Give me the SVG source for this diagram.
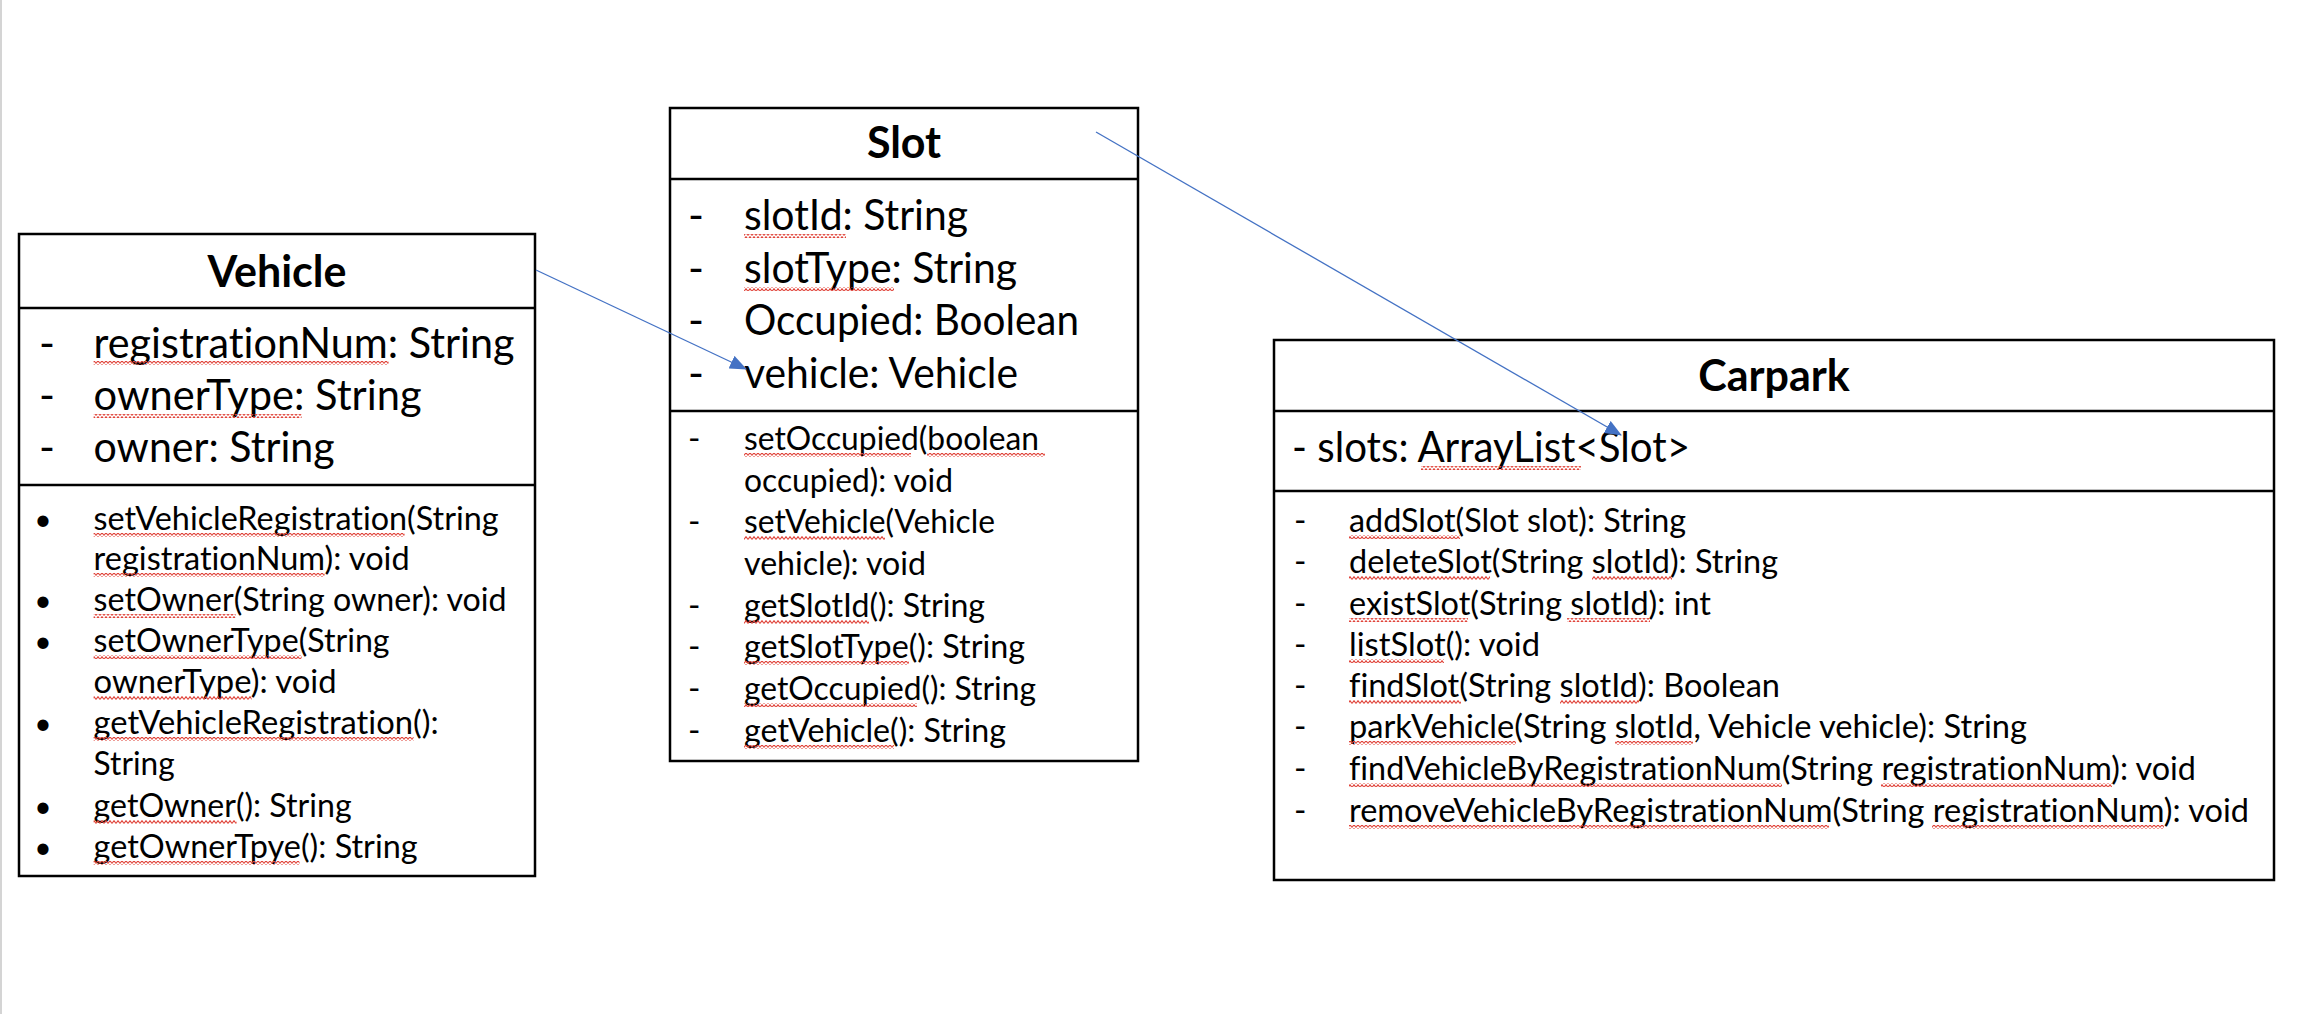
<svg xmlns="http://www.w3.org/2000/svg" width="2324" height="1014" viewBox="0 0 2324 1014">
<style>
.box{fill:#fff;stroke:#000;stroke-width:2.5}
.div{stroke:#000;stroke-width:2.5}
text{font-family:Lato,"Open Sans","Liberation Sans",sans-serif;fill:#000;font-variant-ligatures:none}
.hd{font-size:43px;font-weight:bold;text-anchor:middle}
.at{font-size:43px}
.me{font-size:33.5px}
.bl{font-size:30px;text-anchor:middle}
.sq{fill:url(#sq)}
.con{stroke:#4472C4;stroke-width:1.3;fill:none}
</style>
<defs>
<pattern id="sq" width="4" height="4" patternUnits="userSpaceOnUse">
<path d="M0,3.5 L2,0.7 L4,3.5" fill="none" stroke="#e0443a" stroke-width="1.1"/>
</pattern>
<marker id="arr" markerUnits="userSpaceOnUse" markerWidth="17" markerHeight="14" viewBox="0 0 17 14" refX="16" refY="7" orient="auto">
<path d="M0,0 L17,7 L0,14 z" fill="#4472C4"/>
</marker>
</defs>
<rect x="0" y="0" width="2324" height="1014" fill="#fff"/>
<rect x="0" y="0" width="2" height="1014" fill="#d4d4d4"/>

<g id="vehicle">
<rect class="box" x="19" y="234" width="516" height="642"/>
<line class="div" x1="19" y1="308" x2="535" y2="308"/>
<line class="div" x1="19" y1="485" x2="535" y2="485"/>
<text class="hd" x="277" y="287">Vehicle</text>
<text class="at" x="39" y="358">-</text>
<text class="at" x="39" y="410">-</text>
<text class="at" x="39" y="462">-</text>
<text class="at" x="93.6" y="358" textLength="421" lengthAdjust="spacingAndGlyphs">registrationNum: String</text>
<text class="at" x="93.6" y="410" textLength="328" lengthAdjust="spacingAndGlyphs">ownerType: String</text>
<text class="at" x="93.6" y="462" textLength="241" lengthAdjust="spacingAndGlyphs">owner: String</text>
<rect class="sq" x="93.6" y="361" width="295" height="4"/>
<rect class="sq" x="93.6" y="414" width="208" height="4"/>
<text class="bl" x="43" y="530">•</text>
<text class="bl" x="43" y="611">•</text>
<text class="bl" x="43" y="652">•</text>
<text class="bl" x="43" y="734">•</text>
<text class="bl" x="43" y="817">•</text>
<text class="bl" x="43" y="858">•</text>
<text class="me" x="93.6" y="530" textLength="405" lengthAdjust="spacingAndGlyphs">setVehicleRegistration(String</text>
<text class="me" x="93.6" y="570" textLength="316" lengthAdjust="spacingAndGlyphs">registrationNum): void</text>
<text class="me" x="93.6" y="611" textLength="413" lengthAdjust="spacingAndGlyphs">setOwner(String owner): void</text>
<text class="me" x="93.6" y="652" textLength="296" lengthAdjust="spacingAndGlyphs">setOwnerType(String</text>
<text class="me" x="93.6" y="693" textLength="243" lengthAdjust="spacingAndGlyphs">ownerType): void</text>
<text class="me" x="93.6" y="734" textLength="345" lengthAdjust="spacingAndGlyphs">getVehicleRegistration():</text>
<text class="me" x="93.6" y="775" textLength="81" lengthAdjust="spacingAndGlyphs">String</text>
<text class="me" x="93.6" y="817" textLength="258" lengthAdjust="spacingAndGlyphs">getOwner(): String</text>
<text class="me" x="93.6" y="858" textLength="324" lengthAdjust="spacingAndGlyphs">getOwnerTpye(): String</text>
<rect class="sq" x="93.6" y="533" width="311" height="4"/>
<rect class="sq" x="93.6" y="573" width="231" height="4"/>
<rect class="sq" x="93.6" y="614" width="142" height="4"/>
<rect class="sq" x="93.6" y="655" width="208" height="4"/>
<rect class="sq" x="93.6" y="696" width="158" height="4"/>
<rect class="sq" x="93.6" y="737" width="320" height="4"/>
<rect class="sq" x="93.6" y="820" width="143" height="4"/>
<rect class="sq" x="93.6" y="861" width="206" height="4"/>
</g>

<g id="slot">
<rect class="box" x="670" y="108" width="468" height="653"/>
<line class="div" x1="670" y1="179" x2="1138" y2="179"/>
<line class="div" x1="670" y1="411" x2="1138" y2="411"/>
<text class="hd" x="904" y="158">Slot</text>
<text class="at" x="688" y="230">-</text>
<text class="at" x="688" y="283">-</text>
<text class="at" x="688" y="335">-</text>
<text class="at" x="688" y="388">-</text>
<text class="at" x="744" y="230" textLength="224" lengthAdjust="spacingAndGlyphs">slotId: String</text>
<text class="at" x="744" y="283" textLength="273" lengthAdjust="spacingAndGlyphs">slotType: String</text>
<text class="at" x="744" y="335" textLength="335" lengthAdjust="spacingAndGlyphs">Occupied: Boolean</text>
<text class="at" x="744" y="388" textLength="274" lengthAdjust="spacingAndGlyphs">vehicle: Vehicle</text>
<rect class="sq" x="744" y="234" width="102" height="4"/>
<rect class="sq" x="744" y="287" width="150" height="4"/>
<text class="me" x="688" y="450">-</text>
<text class="me" x="688" y="533">-</text>
<text class="me" x="688" y="617">-</text>
<text class="me" x="688" y="658">-</text>
<text class="me" x="688" y="700">-</text>
<text class="me" x="688" y="742">-</text>
<text class="me" x="744" y="450" textLength="295" lengthAdjust="spacingAndGlyphs">setOccupied(boolean</text>
<text class="me" x="744" y="492" textLength="209" lengthAdjust="spacingAndGlyphs">occupied): void</text>
<text class="me" x="744" y="533" textLength="251" lengthAdjust="spacingAndGlyphs">setVehicle(Vehicle</text>
<text class="me" x="744" y="575" textLength="182" lengthAdjust="spacingAndGlyphs">vehicle): void</text>
<text class="me" x="744" y="617" textLength="241" lengthAdjust="spacingAndGlyphs">getSlotId(): String</text>
<text class="me" x="744" y="658" textLength="281" lengthAdjust="spacingAndGlyphs">getSlotType(): String</text>
<text class="me" x="744" y="700" textLength="292" lengthAdjust="spacingAndGlyphs">getOccupied(): String</text>
<text class="me" x="744" y="742" textLength="262" lengthAdjust="spacingAndGlyphs">getVehicle(): String</text>
<rect class="sq" x="744" y="453" width="167" height="4"/>
<rect class="sq" x="927" y="453" width="118" height="4"/>
<rect class="sq" x="744" y="536" width="141" height="4"/>
<rect class="sq" x="744" y="620" width="125" height="4"/>
<rect class="sq" x="744" y="661" width="165" height="4"/>
<rect class="sq" x="744" y="703" width="173" height="4"/>
<rect class="sq" x="744" y="745" width="150" height="4"/>
</g>

<g id="carpark">
<rect class="box" x="1274" y="340" width="1000" height="540"/>
<line class="div" x1="1274" y1="411" x2="2274" y2="411"/>
<line class="div" x1="1274" y1="491" x2="2274" y2="491"/>
<text class="hd" x="1774" y="391">Carpark</text>
<text class="at" x="1292" y="462" textLength="398" lengthAdjust="spacingAndGlyphs">- slots: ArrayList&lt;Slot&gt;</text>
<rect class="sq" x="1421" y="466" width="160" height="4"/>
<text class="me" x="1294" y="532">-</text>
<text class="me" x="1294" y="573">-</text>
<text class="me" x="1294" y="615">-</text>
<text class="me" x="1294" y="656">-</text>
<text class="me" x="1294" y="697">-</text>
<text class="me" x="1294" y="738">-</text>
<text class="me" x="1294" y="780">-</text>
<text class="me" x="1294" y="822">-</text>
<text class="me" x="1349" y="532" textLength="337" lengthAdjust="spacingAndGlyphs">addSlot(Slot slot): String</text>
<text class="me" x="1349" y="573" textLength="429" lengthAdjust="spacingAndGlyphs">deleteSlot(String slotId): String</text>
<text class="me" x="1349" y="615" textLength="362" lengthAdjust="spacingAndGlyphs">existSlot(String slotId): int</text>
<text class="me" x="1349" y="656" textLength="191" lengthAdjust="spacingAndGlyphs">listSlot(): void</text>
<text class="me" x="1349" y="697" textLength="431" lengthAdjust="spacingAndGlyphs">findSlot(String slotId): Boolean</text>
<text class="me" x="1349" y="738" textLength="678" lengthAdjust="spacingAndGlyphs">parkVehicle(String slotId, Vehicle vehicle): String</text>
<text class="me" x="1349" y="780" textLength="847" lengthAdjust="spacingAndGlyphs">findVehicleByRegistrationNum(String registrationNum): void</text>
<text class="me" x="1349" y="822" textLength="900" lengthAdjust="spacingAndGlyphs">removeVehicleByRegistrationNum(String registrationNum): void</text>
<rect class="sq" x="1349" y="535" width="111" height="4"/>
<rect class="sq" x="1349" y="576" width="141" height="4"/>
<rect class="sq" x="1592" y="576" width="80" height="4"/>
<rect class="sq" x="1349" y="618" width="119" height="4"/>
<rect class="sq" x="1567" y="618" width="83" height="4"/>
<rect class="sq" x="1349" y="659" width="95" height="4"/>
<rect class="sq" x="1349" y="700" width="112" height="4"/>
<rect class="sq" x="1560" y="700" width="79" height="4"/>
<rect class="sq" x="1349" y="741" width="167" height="4"/>
<rect class="sq" x="1615" y="741" width="78" height="4"/>
<rect class="sq" x="1349" y="783" width="433" height="4"/>
<rect class="sq" x="1881" y="783" width="231" height="4"/>
<rect class="sq" x="1349" y="825" width="480" height="4"/>
<rect class="sq" x="1932" y="825" width="232" height="4"/>
</g>

<g id="connectors">
<line class="con" x1="536" y1="270" x2="746" y2="369" marker-end="url(#arr)"/>
<line class="con" x1="1096" y1="132" x2="1621" y2="435" marker-end="url(#arr)"/>
</g>
</svg>
